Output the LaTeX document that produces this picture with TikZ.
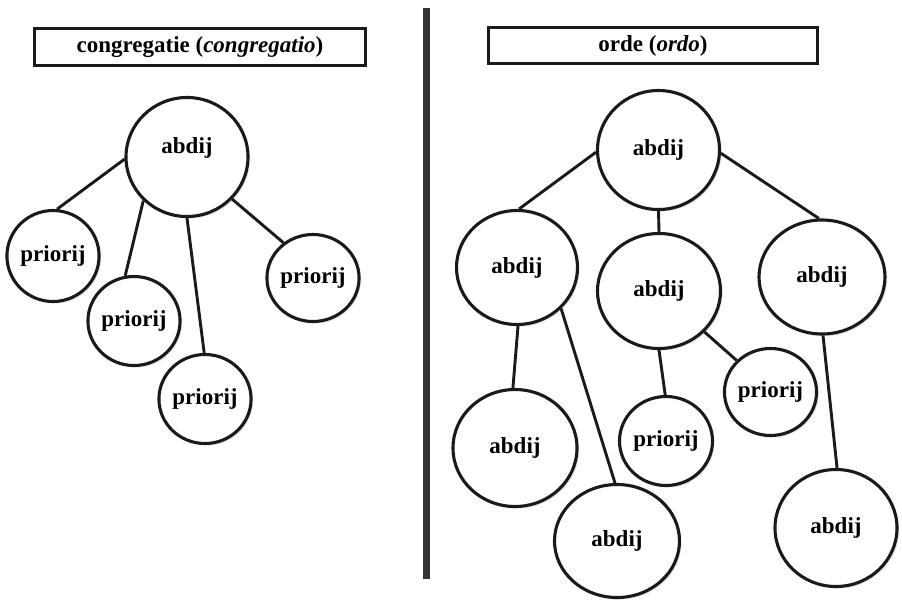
\documentclass[tikz,border=0pt]{standalone}
\usepackage{fontspec}
\setmainfont{Liberation Serif}
\usetikzlibrary{shapes.geometric,shadows}
\definecolor{ink}{HTML}{1A1A1A}
\tikzset{
  ov/.style n args={2}{ellipse, draw=ink, line width=3.1pt, fill=white,
    minimum width=#1pt, minimum height=#2pt, inner sep=0pt,
    font=\fontsize{23}{27}\selectfont\bfseries,
    drop shadow={opacity=0.22, shadow xshift=2pt, shadow yshift=-2pt}},
  hdr/.style n args={2}{rectangle, draw=ink, line width=2.9pt, fill=white,
    minimum width=#1pt, minimum height=#2pt, inner sep=0pt,
    font=\fontsize{23}{27}\selectfont\bfseries,
    drop shadow={opacity=0.18, shadow xshift=1.5pt, shadow yshift=-1.5pt}},
  link/.style={draw=ink, line width=2.9pt},
  bar/.style={draw=black!80, line width=7pt}
}
\begin{document}
\begin{tikzpicture}[x=1pt,y=-1pt]
\useasboundingbox[fill=white] (0,0) rectangle (902,600);
% headers
\node[hdr={331}{37}] (H1) at (200,47) {congregatie (\textit{congregatio})};
\node[hdr={329}{36}] (H2) at (653,45.5) {orde (\textit{ordo})};
% divider
\coordinate (bt) at (426,8);
\coordinate (bb) at (426,579);
\draw[bar] (bt) -- (bb);
% left tree
\node[ov={122}{119}, label={[font=\fontsize{23}{27}\selectfont\bfseries, yshift=9pt]center:abdij}] (L0) at (187,157) {};
\node[ov={91}{91}] (L1) at (53,256) {priorij};
\node[ov={92}{89}] (L2) at (134,321) {priorij};
\node[ov={92}{89}] (L3) at (205,399) {priorij};
\node[ov={90}{87}] (L4) at (313,278) {priorij};
\draw[link] (L0.182) -- (L1.85);
\draw[link] (L0.225.6) -- (L2.101);
\draw[link] (L0.270) -- (L3.91);
\draw[link] (L0.317) -- (L4.130.6);
% right tree
\node[ov={122}{119}] (R0) at (658.5,150) {abdij};
\node[ov={121}{114}] (R1) at (517,267.5) {abdij};
\node[ov={123}{115}] (R2) at (659,291) {abdij};
\node[ov={126}{114}] (R3) at (822,277) {abdij};
\node[ov={124}{117}] (R4) at (515,448) {abdij};
\node[ov={125}{113}] (R5) at (617,541) {abdij};
\node[ov={93}{89}] (R6) at (666,441) {priorij};
\node[ov={92}{87}] (R7) at (770.5,392) {priorij};
\node[ov={122}{117}] (R8) at (836,528) {abdij};
\draw[link] (R0.182) -- (R1.88);
\draw[link] (R0.270) -- (R2.90);
\draw[link] (R0.357) -- (R3.93);
\draw[link] (R1.271) -- (R4.92);
\draw[link] (R1.317) -- (R5.92);
\draw[link] (R2.270) -- (R6.91);
\draw[link] (R2.318) -- (R7.137);
\draw[link] (R3.271) -- (R8.89);
\end{tikzpicture}
\end{document}
